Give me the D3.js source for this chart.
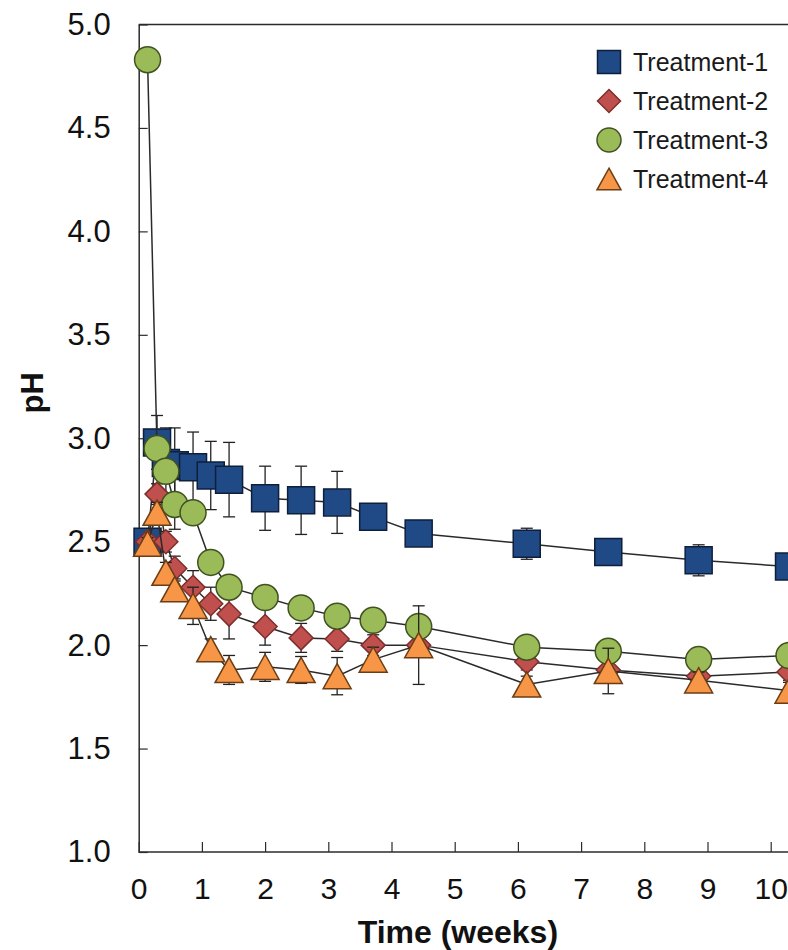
<!DOCTYPE html>
<html>
<head>
<meta charset="utf-8">
<script src="https://cdn.jsdelivr.net/npm/d3@7"></script>
<style>
  html, body { margin: 0; padding: 0; background: #ffffff; }
  svg { display: block; }
  text { font-family: Arial, "Liberation Sans", Helvetica, sans-serif; }
</style>
</head>
<body>
<svg id="chart" width="788" height="950"></svg>
<script>
// Sampling times (weeks)
const weeks = [0.14, 0.29, 0.43, 0.57, 0.86, 1.14, 1.43, 2.00, 2.57, 3.14, 3.71, 4.43, 6.14, 7.43, 8.86, 10.29];

// pH means per treatment
const treatment1 = [2.50, 2.98, 2.88, 2.87, 2.86, 2.82, 2.80, 2.71, 2.70, 2.69, 2.62, 2.54, 2.49, 2.45, 2.41, 2.38];
const treatment2 = [2.50, 2.73, 2.50, 2.37, 2.28, 2.20, 2.15, 2.09, 2.035, 2.03, 2.00, 2.00, 1.92, 1.88, 1.85, 1.87];
const treatment3 = [4.83, 2.95, 2.84, 2.68, 2.64, 2.40, 2.28, 2.23, 2.18, 2.14, 2.12, 2.09, 1.99, 1.97, 1.93, 1.95];
const treatment4 = [2.49, 2.64, 2.35, 2.27, 2.19, 1.98, 1.88, 1.895, 1.88, 1.85, 1.93, 2.00, 1.81, 1.875, 1.83, 1.78];

// Standard deviations (error bars)
const err1 = [0.03, 0.13, 0.17, 0.18, 0.17, 0.165, 0.18, 0.155, 0.165, 0.15, 0.04, 0.04, 0.075, 0.04, 0.075, 0.04];
const err2 = [0.03, 0.05, 0.05, 0.06, 0.08, 0.08, 0.12, 0.09, 0.07, 0.06, 0.05, 0.05, 0.04, 0.04, 0.04, 0.04];
const err3 = [0.03, 0.04, 0.04, 0.12, 0.05, 0.04, 0.04, 0.04, 0.04, 0.04, 0.04, 0.04, 0.04, 0.04, 0.04, 0.04];
const err4 = [0.03, 0.05, 0.05, 0.05, 0.09, 0.05, 0.07, 0.07, 0.065, 0.09, 0.06, 0.19, 0.04, 0.11, 0.04, 0.04];

const seriesNames = ["Treatment-1", "Treatment-2", "Treatment-3", "Treatment-4"];
const xTicks = [0, 1, 2, 3, 4, 5, 6, 7, 8, 9, 10];
const yTicks = [1.0, 1.5, 2.0, 2.5, 3.0, 3.5, 4.0, 4.5, 5.0];

const series = [
  { name: seriesNames[0], values: treatment1, errors: err1, shape: "square",
    fill: "#1f4a86", stroke: "#0e1f3c", size: 27 },
  { name: seriesNames[1], values: treatment2, errors: err2, shape: "diamond",
    fill: "#c0504d", stroke: "#7d2e2c", size: 24 },
  { name: seriesNames[2], values: treatment3, errors: err3, shape: "circle",
    fill: "#9bbb59", stroke: "#3f5220", size: 26 },
  { name: seriesNames[3], values: treatment4, errors: err4, shape: "triangle",
    fill: "#f79646", stroke: "#6b3d14", size: 28 }
];

const svg = d3.select("#chart");

// Plot frame: left edge at week 0, bottom at pH 1.0, top at pH 5.0
const plotLeft = 138.7, plotBottom = 852, plotTop = 24.5;
const x = d3.scaleLinear().domain([0, 10]).range([plotLeft, plotLeft + 632]);
const y = d3.scaleLinear().domain([1, 5]).range([plotBottom, plotTop]);
const plotRight = 800;

const axisColor = "#2b2b2b";

// top frame line
svg.append("line")
  .attr("x1", plotLeft).attr("x2", plotRight)
  .attr("y1", plotTop).attr("y2", plotTop)
  .attr("stroke", axisColor).attr("stroke-width", 1.5);

// x axis (ticks pointing into the plot)
const xAxis = d3.axisBottom(x).tickValues(xTicks).tickSizeInner(-10).tickSizeOuter(0)
  .tickFormat(d3.format("d")).tickPadding(26);
const gx = svg.append("g").attr("transform", `translate(0,${plotBottom})`).call(xAxis);
gx.select(".domain").attr("d", `M${plotLeft},0H${plotRight}`)
  .attr("stroke", axisColor).attr("stroke-width", 1.5);
gx.selectAll(".tick line").attr("stroke", axisColor).attr("stroke-width", 1.2);
gx.selectAll(".tick text").attr("font-size", 30).attr("fill", "#111")
  .attr("font-family", "Arial, 'Liberation Sans', sans-serif");

// y axis (ticks pointing into the plot)
const yAxis = d3.axisLeft(y).tickValues(yTicks).tickSizeInner(-9).tickSizeOuter(0)
  .tickFormat(d3.format(".1f")).tickPadding(28);
const gy = svg.append("g").attr("transform", `translate(${plotLeft},0)`).call(yAxis);
gy.select(".domain").attr("stroke", axisColor).attr("stroke-width", 1.5);
gy.selectAll(".tick line").attr("stroke", axisColor).attr("stroke-width", 1.2);
gy.selectAll(".tick text").attr("font-size", 31).attr("fill", "#111")
  .attr("font-family", "Arial, 'Liberation Sans', sans-serif");

// axis titles
svg.append("text")
  .attr("x", x(5.05)).attr("y", 943)
  .attr("text-anchor", "middle")
  .attr("font-size", 32).attr("font-weight", "bold").attr("fill", "#111")
  .text("Time (weeks)");

svg.append("text")
  .attr("transform", `translate(43,${y(3.22)}) rotate(-90)`)
  .attr("text-anchor", "middle")
  .attr("font-size", 31).attr("font-weight", "bold").attr("fill", "#111")
  .text("pH");

// marker path generator
function markerPath(shape, s) {
  const h = s / 2;
  switch (shape) {
    case "square": return `M${-h},${-h}H${h}V${h}H${-h}Z`;
    case "diamond": return `M0,${-h}L${h},0L0,${h}L${-h},0Z`;
    case "circle": return d3.arc()({ innerRadius: 0, outerRadius: h, startAngle: 0, endAngle: 2 * Math.PI });
    case "triangle": {
      const th = s * 0.9 / 2;
      return `M0,${-th}L${h},${th}L${-h},${th}Z`;
    }
  }
}

const line = d3.line().x(d => x(d.t)).y(d => y(d.v));
const plot = svg.append("g");

series.forEach(s => {
  const pts = weeks.map((t, i) => ({ t, v: s.values[i], e: s.errors[i] }));
  const g = plot.append("g");

  // error bars
  const eb = g.append("g").attr("stroke", "#222").attr("stroke-width", 1.3);
  pts.forEach(p => {
    const cx = x(p.t), y1 = y(p.v + p.e), y2 = y(p.v - p.e);
    eb.append("line").attr("x1", cx).attr("x2", cx).attr("y1", y1).attr("y2", y2);
    eb.append("line").attr("x1", cx - 6).attr("x2", cx + 6).attr("y1", y1).attr("y2", y1);
    eb.append("line").attr("x1", cx - 6).attr("x2", cx + 6).attr("y1", y2).attr("y2", y2);
  });

  // connecting line
  g.append("path").datum(pts)
    .attr("d", line)
    .attr("fill", "none").attr("stroke", "#2a2a2a").attr("stroke-width", 1.5);

  // markers
  g.selectAll("path.mk").data(pts).enter().append("path")
    .attr("class", "mk")
    .attr("transform", d => `translate(${x(d.t)},${y(d.v)})`)
    .attr("d", markerPath(s.shape, s.size))
    .attr("fill", s.fill).attr("stroke", s.stroke).attr("stroke-width", 1.5);
});

// legend
const legend = svg.append("g");
const legendRows = [62, 101, 140, 179];
series.forEach((s, i) => {
  const row = legend.append("g").attr("transform", `translate(609,${legendRows[i]})`);
  const size = { square: 23, diamond: 23, circle: 24, triangle: 24 }[s.shape];
  row.append("path")
    .attr("d", markerPath(s.shape, size))
    .attr("fill", s.fill).attr("stroke", s.stroke).attr("stroke-width", 1.5);
  row.append("text")
    .attr("x", 24).attr("y", 9)
    .attr("font-size", 25).attr("fill", "#1a1a1a")
    .text(s.name);
});
</script>
</body>
</html>
